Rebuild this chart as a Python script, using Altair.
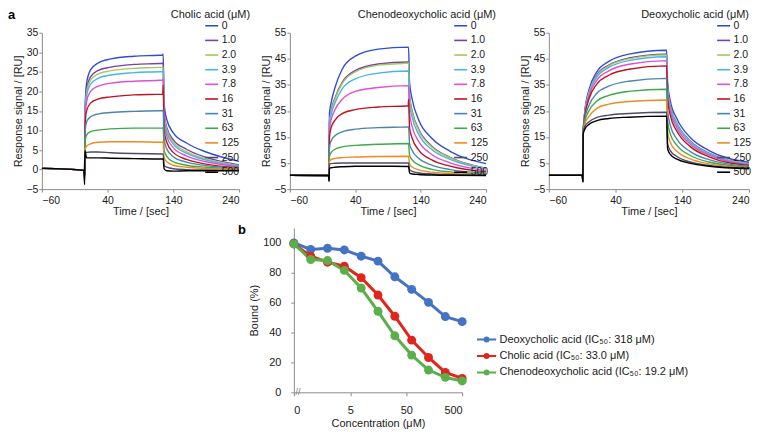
import altair as alt
import pandas as pd
import numpy as np

FONT = "Liberation Sans"

# ---------------- panel a : sensorgrams ----------------
conc_labels = ["0", "1.0", "2.0", "3.9", "7.8", "16", "31", "63", "125", "250", "500"]
curve_colors = ["#2f4fd0", "#7a3fae", "#a6c95a", "#47b5ea", "#e04fd2", "#c0141c",
                "#4a86aa", "#3ea84a", "#f08a22", "#4b4b6b", "#000000"]

cholic_t = [-60, 4, 5, 5.5, 8, 14, 25, 45, 80, 124, 124.5, 126, 130, 140, 160, 190, 240]
cholic_curves = [
    [0.3, -0.2, -1.0, 14.6, 22.0, 25.5, 27.2, 28.3, 29.0, 29.3, 29.6, 17.0, 12.8, 9.4, 6.8, 4.5, 2.1],
    [0.3, -0.2, -1.0, 13.6, 20.4, 23.7, 25.3, 26.2, 26.9, 27.2, 27.4, 15.0, 10.8, 7.6, 5.2, 3.1, 1.2],
    [0.3, -0.2, -1.0, 13.1, 19.7, 22.8, 24.4, 25.3, 25.9, 26.2, 26.4, 14.2, 10.2, 7.0, 4.6, 2.7, 1.0],
    [0.3, -0.2, -1.0, 12.6, 18.8, 21.8, 23.3, 24.2, 24.8, 25.1, 25.3, 13.4, 9.6, 6.5, 4.2, 2.4, 0.9],
    [0.3, -0.2, -1.0, 11.9, 17.4, 20.0, 21.3, 22.1, 22.6, 22.9, 23.2, 12.0, 8.5, 5.6, 3.5, 2.0, 0.7],
    [0.3, -0.2, -1.2, 10.6, 15.0, 17.0, 18.0, 18.6, 19.1, 19.3, 21.6, 10.0, 7.0, 4.4, 2.6, 1.4, 0.5],
    [0.3, -0.2, -1.5, 9.0, 12.2, 13.5, 14.2, 14.6, 14.9, 15.1, 15.3, 7.8, 5.3, 3.3, 1.9, 1.0, 0.4],
    [0.3, -0.2, -1.8, 7.0, 8.8, 9.7, 10.1, 10.4, 10.6, 10.6, 10.8, 5.0, 3.4, 2.0, 1.1, 0.6, 0.2],
    [0.3, -0.2, -2.2, 5.0, 6.0, 6.6, 7.0, 7.1, 7.1, 7.0, 7.2, 3.0, 2.0, 1.1, 0.6, 0.3, 0.1],
    [0.3, -0.2, -2.8, 4.2, 4.4, 4.5, 4.5, 4.3, 4.1, 4.0, 4.0, 1.0, 0.6, 0.2, 0.0, -0.1, -0.2],
    [0.3, -0.2, -3.8, 4.8, 3.0, 3.0, 3.0, 2.9, 2.8, 2.7, 2.8, 0.2, -0.3, -0.4, -0.3, -0.3, -0.3],
]

cheno_t = [-60, -1, 0, 0.5, 3, 9, 20, 40, 75, 121, 121.5, 123, 127, 137, 157, 185, 240]
cheno_curves = [
    [0.3, 0.2, -1.0, 24.0, 28.0, 34.0, 41.0, 46.0, 48.7, 49.5, 49.5, 36.0, 29.5, 21.5, 14.5, 9.5, 4.8],
    [0.3, 0.2, -1.0, 21.0, 25.0, 30.0, 36.0, 40.5, 43.0, 43.8, 43.8, 31.0, 25.0, 18.0, 11.5, 7.2, 3.0],
    [0.3, 0.2, -1.0, 20.5, 24.5, 29.5, 35.5, 40.0, 42.6, 43.4, 43.5, 30.5, 24.5, 17.5, 11.2, 7.0, 2.9],
    [0.3, 0.2, -1.0, 20.0, 23.5, 28.0, 33.5, 37.3, 39.5, 40.3, 40.3, 28.0, 22.5, 16.0, 10.2, 6.4, 2.7],
    [0.3, 0.2, -1.0, 18.0, 21.5, 25.5, 29.5, 32.5, 34.0, 34.7, 34.7, 24.0, 19.0, 13.3, 8.3, 5.1, 2.1],
    [0.3, 0.2, -1.2, 15.0, 18.5, 21.5, 24.0, 25.5, 26.5, 27.0, 29.5, 18.5, 14.5, 10.0, 6.2, 3.8, 1.6],
    [0.3, 0.2, -1.3, 11.0, 13.5, 15.5, 17.0, 18.0, 18.6, 18.9, 19.0, 12.5, 9.8, 6.8, 4.2, 2.5, 1.2],
    [0.3, 0.2, -1.5, 7.5, 9.0, 10.3, 11.2, 11.8, 12.2, 12.5, 12.5, 8.0, 6.2, 4.3, 2.6, 1.6, 0.8],
    [0.3, 0.2, -1.7, 5.5, 6.3, 6.8, 7.1, 7.3, 7.5, 7.6, 7.6, 4.5, 3.5, 2.4, 1.5, 1.0, 0.5],
    [0.3, 0.2, -1.9, 4.5, 4.8, 4.9, 5.0, 5.0, 5.0, 5.0, 5.0, 2.5, 1.8, 1.2, 0.8, 0.5, 0.3],
    [0.3, 0.2, -2.0, 3.0, 3.2, 3.4, 3.6, 3.8, 3.8, 3.7, 3.7, 1.2, 0.8, 0.6, 0.4, 0.3, 0.2],
]

deoxy_t = [-60, -10, -9, -8.5, -6, 0, 12, 30, 60, 116, 116.5, 118, 122, 132, 152, 180, 240]
deoxy_curves = [
    [0.3, 0.3, -1.0, 17.0, 25.0, 33.0, 40.0, 44.0, 46.8, 48.3, 48.3, 36.0, 29.0, 22.0, 14.8, 9.8, 5.3],
    [0.3, 0.3, -1.0, 17.0, 24.5, 32.0, 38.8, 42.6, 45.3, 46.8, 46.8, 34.0, 27.2, 20.3, 13.5, 8.8, 4.8],
    [0.3, 0.3, -1.0, 17.0, 24.3, 31.8, 38.5, 42.3, 45.0, 46.5, 46.5, 33.5, 26.8, 20.0, 13.2, 8.6, 4.7],
    [0.3, 0.3, -1.0, 17.0, 24.0, 31.3, 38.0, 41.7, 44.3, 45.8, 45.8, 33.0, 26.3, 19.6, 12.9, 8.4, 4.6],
    [0.3, 0.3, -1.2, 17.0, 23.5, 30.5, 36.8, 40.4, 42.9, 44.3, 44.3, 31.5, 25.0, 18.5, 12.2, 8.0, 4.4],
    [0.3, 0.3, -1.3, 17.0, 23.0, 29.5, 35.3, 38.7, 41.0, 42.3, 42.3, 29.5, 23.3, 17.2, 11.3, 7.4, 4.1],
    [0.3, 0.3, -1.5, 17.0, 22.0, 27.0, 31.8, 34.5, 36.4, 37.5, 37.5, 25.0, 19.5, 14.2, 9.4, 6.3, 3.7],
    [0.3, 0.3, -1.7, 17.0, 21.0, 25.0, 28.8, 31.0, 32.5, 33.3, 33.3, 21.0, 16.2, 11.8, 7.9, 5.4, 3.4],
    [0.3, 0.3, -1.9, 17.0, 20.0, 22.8, 26.0, 27.6, 28.6, 29.2, 29.2, 17.0, 13.0, 9.5, 6.6, 4.7, 3.2],
    [0.3, 0.3, -2.0, 17.0, 19.0, 20.8, 22.5, 23.4, 24.0, 24.5, 24.5, 12.5, 9.8, 7.5, 5.4, 4.1, 3.0],
    [0.3, 0.3, -2.2, 16.0, 18.0, 19.8, 21.3, 22.1, 22.6, 23.0, 23.0, 10.5, 8.3, 6.5, 4.9, 3.8, 2.8],
]

time_ticks = [-60, 40, 140, 240]
ticks_35 = [-5, 0, 5, 10, 15, 20, 25, 30, 35]
ticks_55 = [-5, 5, 15, 25, 35, 45, 55]

# ---------------- panel b : competition ----------------
b_conc = [0, 1.0, 2.0, 3.9, 7.8, 16, 31, 63, 125, 250, 500]
b_deoxy = [100, 95.6, 96.4, 95.3, 91.1, 87.8, 77.3, 68.9, 60.2, 50.7, 47.3]
b_cholic = [99.3, 91.1, 87.1, 84.4, 76.7, 65.1, 50.9, 34.9, 23.3, 13.3, 9.3]
b_cheno = [99.3, 88.9, 88.2, 81.6, 69.8, 54.2, 37.8, 24.9, 14.9, 10.0, 7.6]
b_names = ["Deoxycholic acid (IC\u2085\u2080: 318 \u03bcM)",
           "Cholic acid (IC\u2085\u2080: 33.0 \u03bcM)",
           "Chenodeoxycholic acid (IC\u2085\u2080: 19.2 \u03bcM)"]
b_colors = ["#4472c4", "#e0261c", "#5aaf4a"]
b_tick_labels = [0, 5, 50, 500]
b_yticks = [0, 20, 40, 60, 80, 100]

AX_COL = "#8c8c8c"
TXT = "#1a1a1a"
ONE = pd.DataFrame({"k": [0]})


def long_df(t, curves):
    rows = []
    for lab, vals in zip(conc_labels, curves):
        for tt, vv in zip(t, vals):
            rows.append({"t": tt, "v": vv, "conc": lab})
    return pd.DataFrame(rows)


def sensor(t, curves, title, ymax, yticks, width, legend_x, title_dx, title_pad, letter=False):
    df = long_df(t, curves)
    lines = alt.Chart(df).mark_line(strokeWidth=1.4, interpolate="monotone", clip=True).encode(
        x=alt.X("t:Q", scale=alt.Scale(domain=[-60, 240], nice=False, zero=False),
                axis=alt.Axis(values=time_ticks, title="Time / [sec]", labelPadding=3,
                              titlePadding=0, tickSize=3)),
        y=alt.Y("v:Q", scale=alt.Scale(domain=[-5, ymax], nice=False, zero=False),
                axis=alt.Axis(values=yticks, title="Response signal / [RU]", labelPadding=1,
                              titlePadding=title_pad, tickSize=3, labelOverlap=False)),
        color=alt.Color("conc:N", sort=conc_labels,
                        scale=alt.Scale(domain=conc_labels, range=curve_colors),
                        legend=alt.Legend(title=None, orient="none", direction="vertical",
                                          legendX=legend_x, legendY=-14.5,
                                          symbolType="stroke", symbolSize=169,
                                          symbolStrokeWidth=1.6, labelFontSize=10.5,
                                          labelFont=FONT, labelColor=TXT, labelOffset=2.5,
                                          rowPadding=1.7, padding=0)),
    )
    head = alt.Chart(ONE).mark_text(
        text=title, fontSize=11, font=FONT, align="right", baseline="middle", color=TXT
    ).encode(x=alt.value(width + title_dx), y=alt.value(-18))
    layers = [lines, head]
    if letter:
        layers.append(alt.Chart(ONE).mark_text(
            text="a", fontSize=13, fontWeight="bold", font=FONT, align="left",
            baseline="middle", color="#000").encode(x=alt.value(-34), y=alt.value(-18)))
    return alt.layer(*layers).properties(width=width, height=157)


p1 = sensor(cholic_t, cholic_curves, "Cholic acid (\u03bcM)", 35, ticks_35, 198, 163, 11, 2, True)
p2 = sensor(cheno_t, cheno_curves, "Chenodeoxycholic acid (\u03bcM)", 55, ticks_55, 197, 164, 10, 2)
p3 = sensor(deoxy_t, deoxy_curves, "Deoxycholic acid (\u03bcM)", 55, ticks_55, 201, 168, 0, 2)

# ---- panel b
rows = []
for name, vals in zip(b_names, [b_deoxy, b_cholic, b_cheno]):
    for i, (c, v) in enumerate(zip(b_conc, vals)):
        rows.append({"pos": i, "conc": c, "bound": v, "acid": name})
bdf = pd.DataFrame(rows)

n_max = len(b_conc) - 1
tick_pos = [0.0 if c == 0 else n_max - np.log2(b_conc[-1] / c) for c in b_tick_labels]
label_expr = ("datum.value < 1 ? '0' : datum.value < 5 ? '5' : datum.value < 8 ? '50' : '500'")

legend_path = ("M-1.6,0L1.6,0M0.33,0A0.33,0.33,0,1,1,-0.33,0A0.33,0.33,0,1,1,0.33,0Z")

xb = alt.X("pos:Q", scale=alt.Scale(domain=[0, n_max], nice=False, zero=False),
           axis=alt.Axis(values=tick_pos, labelExpr=label_expr, title="Concentration (\u03bcM)",
                         labelPadding=9, tickSize=3.5, titlePadding=2, labelFontSize=11,
                         titleFontSize=11, labelOverlap=False))
yb = alt.Y("bound:Q", scale=alt.Scale(domain=[0, 110], nice=False, zero=True),
           axis=alt.Axis(values=b_yticks, title="Bound (%)", labelPadding=10,
                         tickSize=3, titlePadding=3, labelFontSize=11, titleFontSize=11,
                         labelOverlap=False, labelFlush=False, labelBound=False))
cb = alt.Color("acid:N", sort=b_names, scale=alt.Scale(domain=b_names, range=b_colors),
               legend=alt.Legend(title=None, orient="none", direction="vertical",
                                 legendX=186.5, legendY=105, symbolType=legend_path,
                                 symbolSize=144, symbolStrokeWidth=2, labelFontSize=11,
                                 labelFont=FONT, labelColor=TXT, labelOffset=6,
                                 rowPadding=3.5, padding=0, labelLimit=400))

bline = alt.Chart(bdf).mark_line(strokeWidth=3).encode(x=xb, y=yb, color=cb, detail="acid:N")
bpts = alt.Chart(bdf).mark_circle(size=80, opacity=1).encode(x=xb, y=yb, color=cb)
brk = alt.Chart(pd.DataFrame({"pos": [0.25], "bound": [0]})).mark_text(
    text="//", fontSize=9, color="#777", font=FONT).encode(x=xb, y=yb)
blet = alt.Chart(ONE).mark_text(
    text="b", fontSize=13, fontWeight="bold", font=FONT, align="left", baseline="top",
    color="#000").encode(x=alt.value(-56), y=alt.value(-4))

pb = alt.layer(bline, bpts, brk, blet).properties(width=169, height=165)

spacer = alt.Chart(ONE).mark_text(text="").encode(
    x=alt.value(0), y=alt.value(0)).properties(width=187, height=10)

top = alt.hconcat(alt.hconcat(p1, p2, spacing=11).resolve_scale(color="independent"),
                  p3, spacing=24).resolve_scale(color="independent")
bottom = alt.hconcat(spacer, pb, spacing=10).resolve_scale(color="independent")

chart = alt.vconcat(top, bottom, spacing=5).resolve_scale(color="independent").properties(
    padding=0
).configure_view(stroke=None).configure_axis(
    domainColor=AX_COL, tickColor=AX_COL, labelColor=TXT, titleColor=TXT, grid=False,
    labelFont=FONT, titleFont=FONT, titleFontWeight="normal", labelFontSize=10.5,
    titleFontSize=11
).configure_text(font=FONT)

chart.save("out.html", embed_options={"renderer": "svg", "actions": False})
